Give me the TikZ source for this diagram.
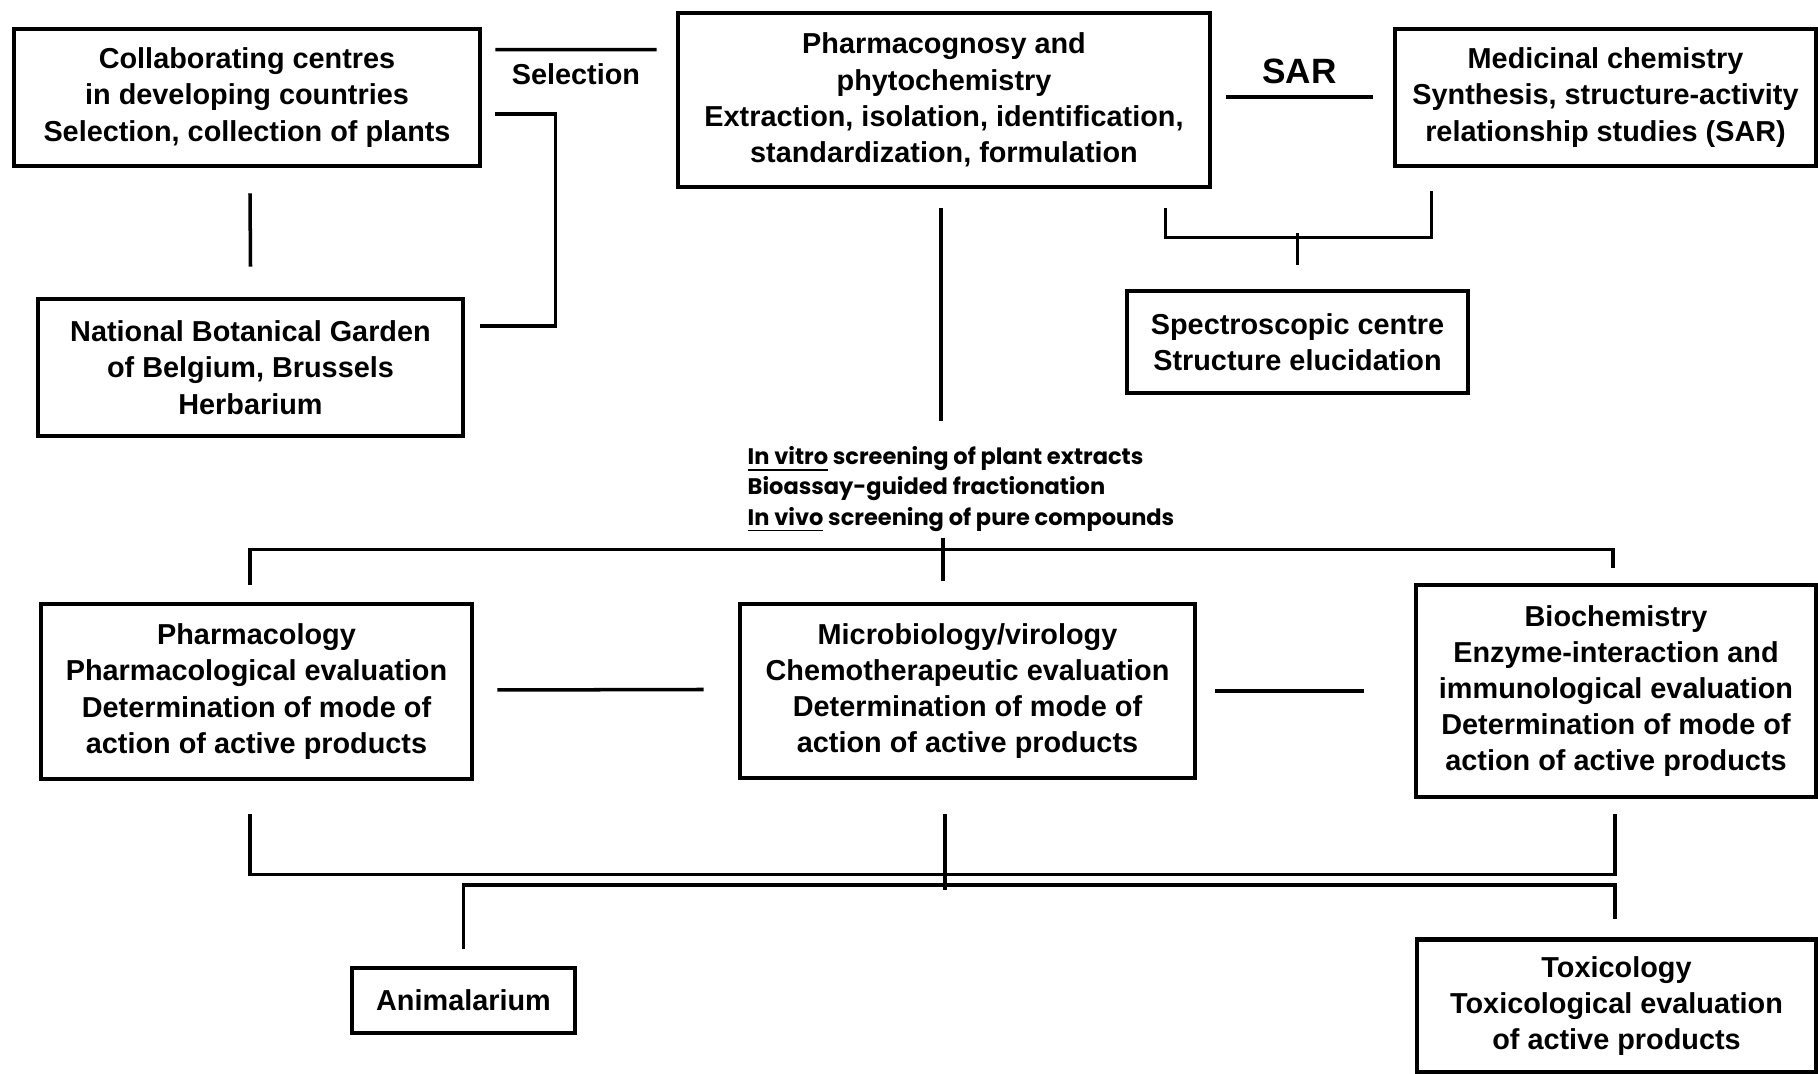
\documentclass[tikz,border=0pt]{standalone}
\usepackage{fontspec}
\setmainfont{Liberation Sans}
\newfontfamily\geofont{Poppins}
\usetikzlibrary{calc}
\begin{document}
\begin{tikzpicture}[x=0.01cm,y=-0.01cm,
    box/.style={draw, line width=1.3pt, align=center, inner sep=0pt,
        font=\fontsize{8.2}{10.3}\selectfont\bfseries},
    link/.style={line width=1pt}]
    \useasboundingbox (0,0) rectangle (1818,1074);
    \node [box, minimum width=4.66cm, minimum height=1.37cm] (collab) at (247,97.5) {Collaborating centres\\in developing countries\\Selection, collection of plants};
    \node [box, minimum width=4.25cm, minimum height=1.37cm] (nbg) at (250.5,367.5) {National Botanical Garden\\of Belgium, Brussels\\Herbarium};
    \node [box, minimum width=5.32cm, minimum height=1.74cm] (pharm) at (944,100) {Pharmacognosy and\\phytochemistry\\Extraction, isolation, identification,\\standardization, formulation};
    \node [box, minimum width=4.21cm, minimum height=1.37cm] (med) at (1605.5,97.5) {Medicinal chemistry\\Synthesis, structure-activity\\relationship studies (SAR)};
    \node [box, minimum width=3.41cm, minimum height=1.02cm] (spec) at (1297.5,342) {Spectroscopic centre\\Structure elucidation};
    \node [anchor=north west, inner sep=0pt, align=left, font=\geofont\fontsize{6.4}{8.6}\selectfont\bfseries] (screen) at (747,446) {\underline{In vitro} screening of plant extracts\\Bioassay-guided fractionation\\\underline{In vivo} screening of pure compounds};
    \node [box, minimum width=4.31cm, minimum height=1.75cm] (pcol) at (256.5,691.5) {Pharmacology\\Pharmacological evaluation\\Determination of mode of\\action of active products};
    \node [box, minimum width=4.55cm, minimum height=1.74cm] (micro) at (967.5,691) {Microbiology/virology\\Chemotherapeutic evaluation\\Determination of mode of\\action of active products};
    \node [box, minimum width=4.00cm, minimum height=2.12cm] (bio) at (1616,691) {Biochemistry\\Enzyme-interaction and\\immunological evaluation\\Determination of mode of\\action of active products};
    \node [box, minimum width=2.23cm, minimum height=0.65cm] (anim) at (463.5,1000.5) {Animalarium};
    \node [box, minimum width=3.99cm, minimum height=1.33cm] (tox) at (1616.5,1006) {Toxicology\\Toxicological evaluation\\of active products};
    \draw [link] ($(collab.north east)+(13,23)$) -- node [below, font=\fontsize{8.2}{10.3}\selectfont\bfseries] {Selection} ($(pharm.north west)+(-19,39)$);
    \draw [link] ($(collab.east)+(13,16.5)$) -| ($(nbg.east)+(90,-41.5)$) -- ($(nbg.east)+(15,-41.5)$);
    \draw [link] ($(collab.south)+(3,25)$) -- ($(nbg.north)+(0,-30)$);
    \draw [link] ($(pharm.east)+(14,-3)$) -- node [above, font=\fontsize{10}{12}\selectfont\bfseries] {SAR} ($(med.west)+(-20,-0.5)$);
    \draw [link] ($(pharm.south east)+(-47,19)$) |- ($(med.south west)+(39,69)$) -- ($(med.south west)+(39,23)$);
    \draw [link] ($(spec.north)+(0,-56)$) -- ($(spec.north)+(0,-24)$);
    \draw [link] ($(pharm.south)+(-3,19)$) -- ($(pharm.south)+(-3,232)$);
    \draw [link] ($(pcol.north)+(-6.5,-17)$) |- ($(bio.north)+(-3,-33)$) -- ($(bio.north)+(-3,-15)$);
    \draw [link] ($(micro.north)+(-24.5,-64)$) -- ($(micro.north)+(-24.5,-21)$);
    \draw [link] ($(pcol.east)+(23,-1.5)$) -- ($(micro.west)+(-34,-1.5)$);
    \draw [link] ($(micro.east)+(18,0)$) -- ($(bio.west)+(-50,0)$);
    \draw [link] ($(pcol.south)+(-6.5,33)$) |- ($(bio.south)+(-1,75)$) -- ($(bio.south)+(-1,15)$);
    \draw [link] ($(micro.south)+(-22.5,34)$) -- ($(micro.south)+(-22.5,110)$);
    \draw [link] ($(anim.north)+(0,-17)$) |- ($(tox.north)+(-1.5,-52)$) -- ($(tox.north)+(-1.5,-18)$);
\end{tikzpicture}
\end{document}
